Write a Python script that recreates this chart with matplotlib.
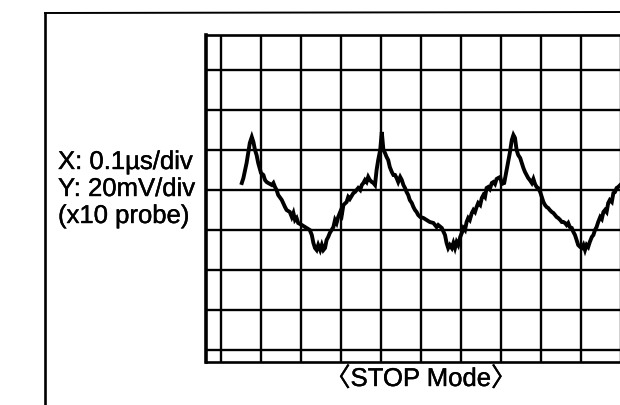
import matplotlib
matplotlib.use("Agg")
import matplotlib.pyplot as plt
from matplotlib.lines import Line2D
import matplotlib.patheffects as pe

# Scope trace: time in ns, voltage in mV (20 mV/div, 100 ns/div)
t_ns = [52, 56, 64, 72, 77, 81, 85, 89, 93, 100, 106, 110, 114, 118, 127, 131,
        135, 139, 143, 152, 160, 164, 172, 177, 181, 185, 189, 193, 202, 210, 214, 222,
        227, 231, 235, 239, 243, 248, 252, 256, 260, 264, 268, 272, 281, 285, 289, 293,
        298, 302, 306, 314, 318, 322, 331, 335, 343, 348, 352, 356, 360, 364, 368, 372,
        377, 381, 385, 389, 393, 398, 402, 406, 410, 414, 418, 422, 427, 431, 435, 439,
        443, 448, 452, 456, 460, 464, 468, 472, 477, 481, 485, 489, 493, 498, 506, 514,
        522, 531, 539, 543, 552, 560, 564, 568, 572, 577, 581, 585, 589, 593, 598, 602,
        606, 610, 614, 618, 622, 627, 631, 635, 639, 643, 648, 652, 656, 660, 664, 668,
        672, 677, 681, 685, 689, 693, 698, 702, 708, 714, 722, 727, 731, 735, 739, 743,
        748, 752, 756, 760, 764, 768, 772, 777, 781, 785, 789, 793, 798, 802, 806, 810,
        814, 818, 822, 827, 831, 835, 839, 843, 848, 852, 856, 860, 864, 868, 872, 877,
        881, 885, 889, 893, 898, 902, 906, 910, 914, 918, 922, 927, 931, 935, 939, 943,
        948, 952, 956, 960, 964, 968, 972, 977, 981, 985, 989, 993, 998]
v_mV = [83.5, 86, 93.5, 103.5, 106.5, 104, 100, 97.5, 93.5, 88.5, 87.5, 85, 84, 83.5, 82.5, 83.5,
        81.5, 80, 77.5, 75, 71.5, 70, 69, 66.5, 68.5, 65, 66, 63.5, 62.5, 61.5, 61, 60,
        57.5, 53.5, 51, 50, 52.5, 50, 52.5, 50, 51, 55, 56.5, 58.5, 61.5, 65, 63.5, 66.5,
        69, 67.5, 72.5, 74, 76.5, 75.5, 78.5, 79, 81, 80, 82.5, 83.5, 85, 84, 86.5, 85,
        84, 83.5, 82.5, 90, 95, 100, 109, 100, 98.5, 96.5, 95, 91.5, 89, 87.5, 87.5, 86,
        84, 86.5, 85, 82.5, 81, 79, 77.5, 75, 73.5, 71.5, 70, 69, 67.5, 66.5, 66, 65,
        64, 63.5, 61.5, 62.5, 61, 57.5, 53.5, 51, 52.5, 51, 53.5, 51, 54, 52.5, 56.5, 58.5,
        61, 60, 64, 66, 65, 68.5, 70, 69, 71.5, 73.5, 72.5, 76, 77.5, 76.5, 81, 81.5,
        80.5, 83.5, 84, 83, 85.5, 86, 86.5, 83, 83.5, 90, 98.5, 105, 107.5, 106, 100, 97.5,
        96, 93.5, 91, 89, 87.5, 86, 85, 83.5, 85.5, 83, 81.5, 81, 79, 76.5, 74, 72.5,
        71.5, 71, 70, 69, 68.5, 67.5, 66.5, 66, 65, 64, 64, 63.5, 62.5, 63.5, 61.5, 61,
        59, 57.5, 55, 52.5, 51.5, 51, 52.5, 50, 52.5, 51.5, 54, 56.5, 57.5, 60, 61.5, 64,
        66.5, 65.5, 69, 70, 69, 73.5, 75, 74, 78.5, 79, 81, 81.5, 82.5]

# Graticule
grid_t = [0, 100, 200, 300, 400, 500, 600, 700, 800, 900, 1000]
grid_v = [0, 20, 40, 60, 80, 100, 120, 140]

label_lines = ["X: 0.1\u00b5s/div", "Y: 20mV/div", "(x10 probe)"]
caption = "\u3008STOP Mode\u3009"

fig = plt.figure(figsize=(6.2, 4.05), dpi=100)
fig.patch.set_facecolor("white")

ax = fig.add_axes([206 / 620, 43 / 405, 435 / 620, 327 / 405])
ax.set_xlim(-37.5, 1050)
ax.set_ylim(-6, 157.5)
for gx in grid_t:
    ax.axvline(gx, color="black", lw=1.7, zorder=1)
for gy in grid_v:
    ax.axhline(gy, color="black", lw=1.7, zorder=1)
ax.plot(t_ns, v_mV, color="black", lw=2.8, solid_joinstyle="miter", zorder=3)
ax.set_xticks([])
ax.set_yticks([])
for side, sp in ax.spines.items():
    sp.set_color("black")
    sp.set_linewidth(1.9)
ax.spines["left"].set_linewidth(2.6)

# Outer page frame
fig.add_artist(Line2D([45 / 620, 45 / 620], [0, 392 / 405], color="black", lw=1.9))
fig.add_artist(Line2D([45 / 620, 1.0], [392 / 405, 393 / 405], color="black", lw=1.4))

heavy = [pe.withStroke(linewidth=0.3, foreground="black")]
fam = ["Liberation Sans", "DejaVu Sans"]
for i, s in enumerate(label_lines):
    fig.text(58 / 620, (405 - 169 - 27 * i) / 405, s, fontsize=18.5, family=fam,
             ha="left", va="baseline", path_effects=heavy)
fig.text(421 / 620, 19 / 405, caption, fontsize=18.5,
         family=["Liberation Sans", "Noto Sans CJK JP", "DejaVu Sans"],
         ha="center", va="baseline", path_effects=heavy)

fig.savefig("out.png", dpi=100, facecolor="white")
